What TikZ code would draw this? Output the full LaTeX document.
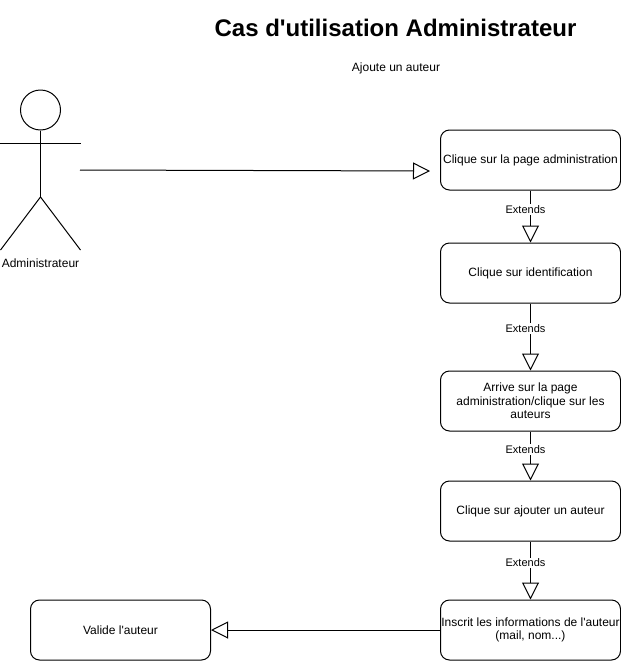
\documentclass[tikz,border=0pt]{standalone}
\usepackage{fontspec}
\setmainfont{Liberation Sans}
\usetikzlibrary{arrows.meta}
\tikzset{
    usecase/.style={draw, rounded corners=6.75pt, line width=0.75pt, minimum width=135pt, minimum height=45pt, inner sep=0pt, align=center, font=\fontsize{9}{10.2}\selectfont},
    caption/.style={inner sep=0pt, align=center, font=\fontsize{9}{10.2}\selectfont},
    opentip/.style={line width=0.75pt, -{Triangle[open, length=12.75pt, width=12.75pt]}},
    extendslabel/.style={inner sep=0pt, fill=white, inner ysep=1pt, pos=0.37, xshift=-3.75pt, font=\fontsize{8.25}{9.5}\selectfont}
}
\begin{document}
\begin{tikzpicture}[x=0.75pt, y=-0.75pt, line width=0.75pt]
            \useasboundingbox (0, 0) rectangle (621, 661);
            \node[font=\fontsize{18}{20}\bfseries\selectfont, inner sep=0pt] (title) at (395.5, 28) {Cas d\textquotesingle utilisation Administrateur};
            \node[caption]                    (subtitle) at (396, 68)  {Ajoute un auteur};
            % actor
            \node[draw, circle, minimum size=30pt, inner sep=0pt] (head) at (40.5, 110) {};
            \coordinate (hip)      at (40.5, 197);
            \coordinate (armleft)  at (0.5, 143.5);
            \coordinate (armright) at (80.5, 143.5);
            \coordinate (footleft) at (0.5, 250);
            \coordinate (footright) at (80.5, 250);
            \draw (head.south) -- (hip);
            \draw (armleft) -- (armright);
            \draw (footleft) -- (hip) -- (footright);
            \node[caption]                    (admin)    at (40.5, 263) {Administrateur};
            % use cases
            \node[usecase]                    (page)     at (530.5, 160) {Clique sur la page administration};
            \node[usecase]                    (ident)    at (530.5, 273) {Clique sur identification};
            \node[usecase]                    (arrive)   at (530.5, 401) {Arrive sur la page\\administration/clique sur les\\auteurs};
            \node[usecase]                    (ajouter)  at (530.5, 511) {Clique sur ajouter un auteur};
            \node[usecase]                    (inscrit)  at (530.5, 630) {Inscrit les informations de l\textquotesingle auteur\\(mail, nom...)};
            \node[usecase]                    (valide)   at (120.5, 630) {Valide l\textquotesingle auteur};
            % connectors
            \coordinate (start) at (80, 170);
            \coordinate (stop)  at (430, 171);
            \draw[opentip] (start) -- (stop);
            \draw[opentip] (page)    -- node[extendslabel] (ext1) {Extends} (ident);
            \draw[opentip] (ident)   -- node[extendslabel] (ext2) {Extends} (arrive);
            \draw[opentip] (arrive)  -- node[extendslabel] (ext3) {Extends} (ajouter);
            \draw[opentip] (ajouter) -- node[extendslabel] (ext4) {Extends} (inscrit);
            \draw[opentip] (inscrit) -- (valide);
\end{tikzpicture}
\end{document}
